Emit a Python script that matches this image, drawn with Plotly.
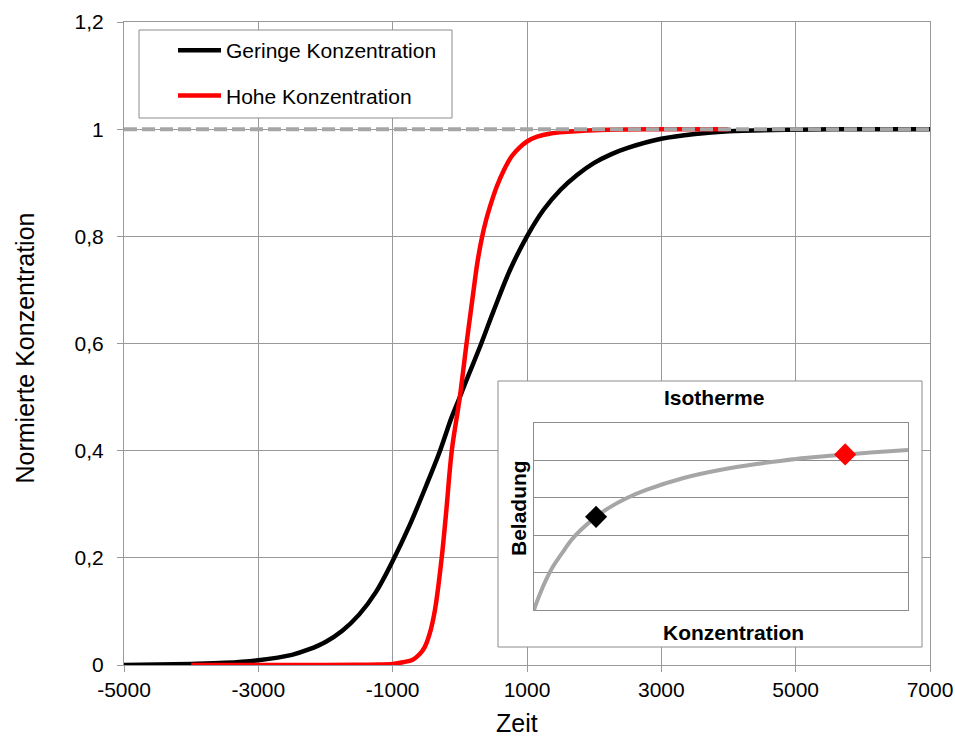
import plotly.graph_objects as go

# ---- data ----
black_x = [-5000, -4500, -4000, -3500, -3000, -2500, -2250, -2000, -1750, -1500, -1250, -1000,
           -750, -500, -300, -120, 0, 100, 300, 500, 750, 1000, 1250, 1500, 1750, 2000,
           2250, 2500, 3000, 3500, 4000, 5000, 6000, 7000]
black_y = [0.0, 0.001, 0.002, 0.004, 0.009, 0.019, 0.029, 0.043, 0.064, 0.094, 0.136, 0.194,
           0.260, 0.335, 0.398, 0.463, 0.50, 0.532, 0.594, 0.66, 0.738, 0.80, 0.850, 0.887, 0.915, 0.937,
           0.953, 0.965, 0.982, 0.991, 0.996, 0.999, 1.0, 1.0]

red_x = [-4000, -2000, -1500, -1200, -1000, -850, -700, -600, -525, -450, -370, -270, -200,
         -120, 0, 100, 200, 260, 325, 390, 450, 550, 650, 775, 900, 1000, 1150, 1350, 1600,
         2200, 3000, 4000]
red_y = [0.0, 0.0, 0.0005, 0.001, 0.002, 0.005, 0.010, 0.02, 0.033, 0.058, 0.103, 0.2, 0.29,
         0.4, 0.5, 0.6, 0.695, 0.75, 0.795, 0.83, 0.856, 0.893, 0.922, 0.950, 0.967, 0.977,
         0.986, 0.992, 0.995, 0.999, 1.0, 1.0]

ref_x = [-5000, 7000]
ref_y = [1.0, 1.0]

iso_x = [0, 0.02, 0.05, 0.15, 0.3, 0.5, 0.75, 1.0, 1.25, 1.66, 2.0, 2.5, 3.0, 4.0, 5.0,
         6.0, 7.0, 8.0, 9.0, 10.0]
iso_y = [0, 0.06, 0.145, 0.41, 0.76, 1.15, 1.52, 1.87, 2.14, 2.49, 2.73, 3.00, 3.21, 3.53,
         3.75, 3.91, 4.04, 4.13, 4.21, 4.28]

pt_low_x, pt_low_y = [1.66], [2.49]
pt_high_x, pt_high_y = [8.32], [4.16]

x_tick_vals = [-5000, -3000, -1000, 1000, 3000, 5000, 7000]
x_tick_labels = ["-5000", "-3000", "-1000", "1000", "3000", "5000", "7000"]
y_tick_vals = [0, 0.2, 0.4, 0.6, 0.8, 1.0, 1.2]
y_tick_labels = ["0", "0,2", "0,4", "0,6", "0,8", "1", "1,2"]

name_low = "Geringe Konzentration"
name_high = "Hohe Konzentration"
x_title = "Zeit"
y_title = "Normierte Konzentration"

FONT = "Liberation Sans, Arial, sans-serif"
GRID = "#999999"
BOX = "#8C8C8C"
GRAYLINE = "#A6A6A6"

X_RANGE = [-5000, 7000]
Y_RANGE = [0, 1.2]

fig = go.Figure()

fig.add_trace(go.Scatter(x=black_x, y=black_y, mode="lines", name=name_low,
                         line=dict(color="black", width=4.5, shape="spline", smoothing=1.0),
                         legendgroup="a", xaxis="x", yaxis="y"))
fig.add_trace(go.Scatter(x=red_x, y=red_y, mode="lines", name=name_high,
                         line=dict(color="#FF0000", width=4.5, shape="spline", smoothing=1.0),
                         legendgroup="b", xaxis="x", yaxis="y"))
fig.add_trace(go.Scatter(x=ref_x, y=ref_y, mode="lines", showlegend=False,
                         line=dict(color=GRAYLINE, width=4, dash="13px,5px"),
                         xaxis="x", yaxis="y", hoverinfo="skip"))

# inset
fig.add_trace(go.Scatter(x=iso_x, y=iso_y, mode="lines", showlegend=False,
                         line=dict(color=GRAYLINE, width=4, shape="spline", smoothing=1.0),
                         xaxis="x2", yaxis="y2"))
fig.add_trace(go.Scatter(x=pt_low_x, y=pt_low_y, mode="markers", showlegend=False,
                         marker=dict(symbol="diamond", size=17, color="black"),
                         xaxis="x2", yaxis="y2"))
fig.add_trace(go.Scatter(x=pt_high_x, y=pt_high_y, mode="markers", showlegend=False,
                         marker=dict(symbol="diamond", size=17, color="#FF0000"),
                         xaxis="x2", yaxis="y2"))

# plot area: px 124..930 x 22..665
W, H = 955, 737
L, R, T, B = 124, 930, 22, 665
def px(x):
    return (x - L) / (R - L)
def py(y):
    return (B - y) / (B - T)
def dx(x):
    return X_RANGE[0] + px(x) * (X_RANGE[1] - X_RANGE[0])
def dy(y):
    return Y_RANGE[0] + py(y) * (Y_RANGE[1] - Y_RANGE[0])

fig.update_layout(
    width=W, height=H,
    margin=dict(l=L, r=W - R, t=T, b=H - B, autoexpand=False),
    paper_bgcolor="white", plot_bgcolor="white",
    font=dict(family=FONT, size=21, color="black"),
    showlegend=True,
    legend=dict(x=px(173), y=py(30), xanchor="left", yanchor="top",
                bgcolor="rgba(0,0,0,0)", borderwidth=0,
                font=dict(family=FONT, size=21, color="black"),
                traceorder="grouped", tracegroupgap=15, itemwidth=43),
    xaxis=dict(domain=[0, 1], range=X_RANGE, tickvals=x_tick_vals, ticktext=x_tick_labels,
               showgrid=True, gridcolor=GRID, gridwidth=1, zeroline=False,
               showline=True, linecolor=GRID, linewidth=1, mirror=True, automargin=False,
               ticks="outside", ticklen=6, tickcolor=GRID, tickfont=dict(size=21)),
    yaxis=dict(domain=[0, 1], range=Y_RANGE, tickvals=y_tick_vals, ticktext=y_tick_labels,
               showgrid=True, gridcolor=GRID, gridwidth=1, zeroline=False,
               showline=True, linecolor=GRID, linewidth=1, mirror=True, automargin=False,
               ticks="outside", ticklen=6, tickcolor=GRID, tickfont=dict(size=21),
               ticklabelstandoff=9),
    xaxis2=dict(domain=[px(534), px(908)], range=[0, 10], anchor="y2", automargin=False,
                showgrid=False, zeroline=False, showticklabels=False, ticks="",
                showline=True, linecolor=BOX, linewidth=1, mirror=True),
    yaxis2=dict(domain=[py(610), py(423)], range=[0, 5], anchor="x2", dtick=1, automargin=False,
                showgrid=True, gridcolor=BOX, gridwidth=1, zeroline=False,
                showticklabels=False, ticks="",
                showline=True, linecolor=BOX, linewidth=1, mirror=True),
    shapes=[
        # inset frame: above main grid, below the inset subplot
        dict(type="rect", xref="x", yref="y",
             x0=dx(498), x1=dx(922), y0=dy(647), y1=dy(381),
             fillcolor="white", line=dict(color=BOX, width=1), layer="between"),
        # legend frame
        dict(type="rect", xref="paper", yref="paper",
             x0=px(139), x1=px(452), y0=py(118), y1=py(30),
             fillcolor="white", line=dict(color=BOX, width=1), layer="above"),
    ],
    annotations=[
        dict(text=x_title, xref="paper", yref="paper", x=px(517), y=py(723),
             showarrow=False, font=dict(family=FONT, size=25, color="black"),
             xanchor="center", yanchor="middle"),
        dict(text=y_title, xref="paper", yref="paper", x=px(24.5), y=py(348),
             showarrow=False, textangle=-90, font=dict(family=FONT, size=25, color="black"),
             xanchor="center", yanchor="middle"),
        dict(text="<b>Isotherme</b>", xref="paper", yref="paper", x=px(714), y=py(397),
             showarrow=False, font=dict(family=FONT, size=21, color="black"),
             xanchor="center", yanchor="middle"),
        dict(text="<b>Konzentration</b>", xref="paper", yref="paper", x=px(733), y=py(632),
             showarrow=False, font=dict(family=FONT, size=21, color="black"),
             xanchor="center", yanchor="middle"),
        dict(text="<b>Beladung</b>", xref="paper", yref="paper", x=px(518), y=py(508),
             showarrow=False, textangle=-90, font=dict(family=FONT, size=21, color="black"),
             xanchor="center", yanchor="middle"),
    ],
)

fig.write_html("out.html")
